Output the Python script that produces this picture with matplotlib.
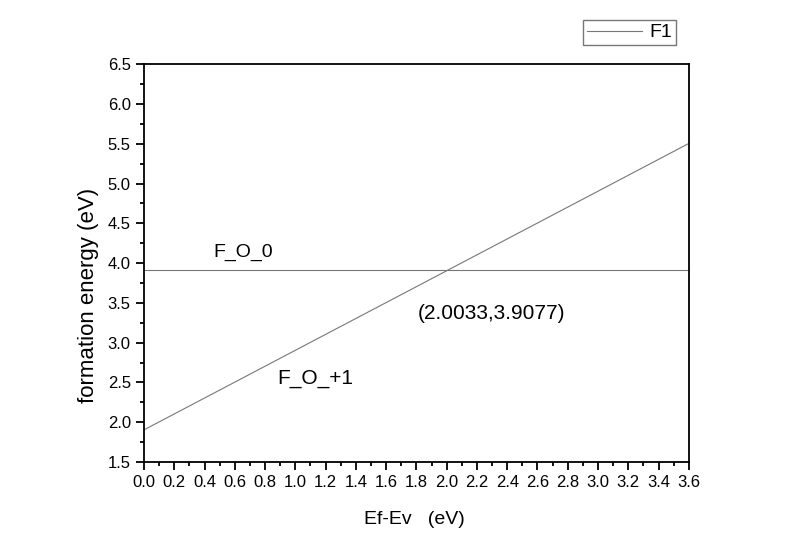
import numpy as np
import matplotlib
matplotlib.use("Agg")
from matplotlib import pyplot as plt
from matplotlib.ticker import MultipleLocator

plt.rcParams['font.family'] = ['Liberation Sans', 'DejaVu Sans']

# data
x_ends = [0.0, 3.6]
f_plus1 = [1.9044, 5.5044]   # F_O_+1 : E = Ef + 1.9044
f_zero = [3.9077, 3.9077]    # F_O_0
cross = (2.0033, 3.9077)

fig = plt.figure(figsize=(8, 5.54), dpi=100)
ax = fig.add_axes([0.18, 0.166, 0.681, 0.718])

ax.plot(x_ends, f_zero, color='#777777', lw=0.8, label='F1')
ax.plot(x_ends, f_plus1, color='#777777', lw=0.8)

ax.set_xlim(0, 3.6)
ax.set_ylim(1.5, 6.5)
ax.xaxis.set_major_locator(MultipleLocator(0.2))
ax.xaxis.set_minor_locator(MultipleLocator(0.1))
ax.yaxis.set_major_locator(MultipleLocator(0.5))
ax.yaxis.set_minor_locator(MultipleLocator(0.25))
ax.tick_params(which='both', direction='out', top=False, right=False, labelsize=12, width=1.3)
ax.tick_params(which='major', length=6)
ax.tick_params(which='minor', length=3)
for s in ax.spines.values():
    s.set_linewidth(1.3)

ax.set_xlabel('Ef-Ev   (eV)', fontsize=14)
ax.set_ylabel('formation energy (eV)', fontsize=16)
ax.xaxis.set_label_coords(0.497, -0.124)
ax.yaxis.set_label_coords(-0.083, 0.42)

ax.text(0.456, 4.14, 'F_O_0', fontsize=14, va='center')
ax.text(1.81, 3.37, '(%.4f,%.4f)' % cross, fontsize=15, va='center')
ax.text(0.88, 2.555, 'F_O_+1', fontsize=15, va='center')

leg = fig.legend(loc='upper left', bbox_to_anchor=(0.729, 0.964), fontsize=14,
                 frameon=True, fancybox=False, edgecolor='#555555',
                 handlelength=2.8, borderpad=0.2, handletextpad=0.4,
                 borderaxespad=0)
leg.get_frame().set_linewidth(1.0)

fig.savefig('out.png', dpi=100)
